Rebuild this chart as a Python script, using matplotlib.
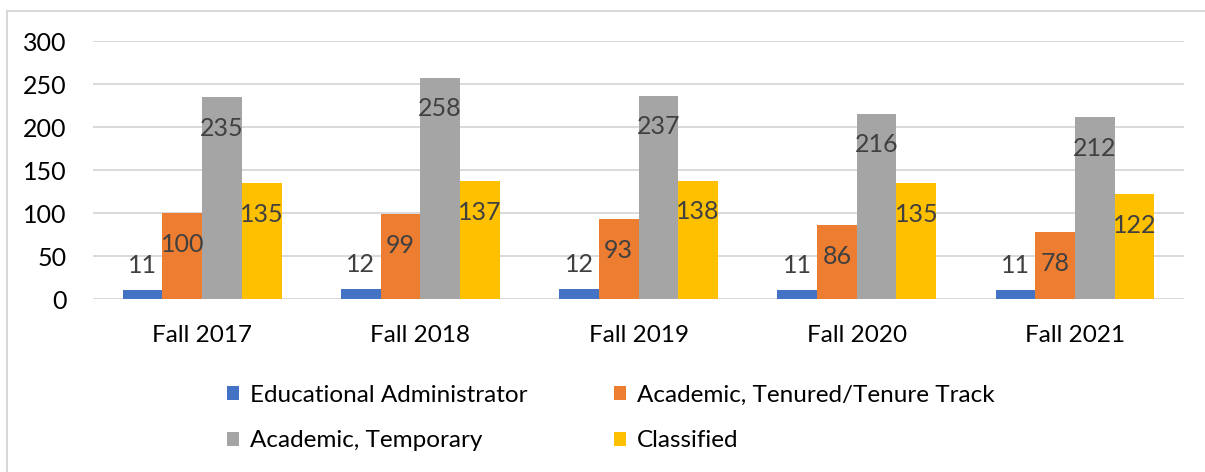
import numpy as np
import matplotlib
matplotlib.use("Agg")
from matplotlib import pyplot as plt
from matplotlib.lines import Line2D

plt.rcParams['font.family'] = ['Lato', 'DejaVu Sans']

terms = ["Fall 2017", "Fall 2018", "Fall 2019", "Fall 2020", "Fall 2021"]
ed_admin = [11, 12, 12, 11, 11]
tenured = [100, 99, 93, 86, 78]
temporary = [235, 258, 237, 216, 212]
classified = [135, 137, 138, 135, 122]

series_names = ["Educational Administrator", "Academic, Tenured/Tenure Track",
                "Academic, Temporary", "Classified"]
series = [ed_admin, tenured, temporary, classified]
colors = ["#4472C4", "#ED7D31", "#A5A5A5", "#FFC000"]
y_ticks = [0, 50, 100, 150, 200, 250, 300]

fig = plt.figure(figsize=(12.05, 4.72), dpi=100)
ax = fig.add_axes([0.0772, 0.3665, 0.9054, 0.5456])

x = np.arange(len(terms))
width = 0.182
handles = []
for i, (name, vals, c) in enumerate(zip(series_names, series, colors)):
    pos = x + (i - 1.5) * width
    handles.append(ax.bar(pos, vals, width, color=c, label=name, zorder=3))
    for px, v in zip(pos, vals):
        # small bars get their label above the bar
        dy = 17.5 if v < 30 else -22.5
        ax.annotate(str(v), (px, v), xytext=(0, dy), textcoords='offset points',
                    ha='center', va='center', fontsize=18, color='#404040',
                    zorder=4)

ax.set_xlim(-0.5, len(terms) - 0.5)
ax.set_ylim(0, 300)
ax.set_yticks(y_ticks)
ax.set_xticks(x)
ax.set_xticklabels(terms)
ax.tick_params(axis='y', length=0, pad=19, labelsize=18, labelcolor='black')
ax.tick_params(axis='x', length=0, pad=19, labelsize=17.5, labelcolor='black')
ax.grid(axis='y', color='#D9D9D9', linewidth=1.4, zorder=0)
for s in ax.spines.values():
    s.set_visible(False)

# legend fills by column, so reorder to read across rows
order = [0, 2, 1, 3]
fig.legend([handles[k] for k in order], [series_names[k] for k in order],
           loc='center', bbox_to_anchor=(0.507, 0.114), ncol=2, frameon=False,
           fontsize=17.5, handlelength=0.5, handleheight=0.5, handletextpad=0.45,
           columnspacing=3.55, labelspacing=1.0)

# chart frame
fig.add_artist(Line2D([7 / 1205, 7 / 1205], [0, 1 - 11 / 472],
                      transform=fig.transFigure, color='#D9D9D9', linewidth=1.5))
fig.add_artist(Line2D([7 / 1205, 1], [1 - 11 / 472, 1 - 11 / 472],
                      transform=fig.transFigure, color='#D9D9D9', linewidth=1.5))

fig.savefig("out.png", dpi=100, facecolor='white')
